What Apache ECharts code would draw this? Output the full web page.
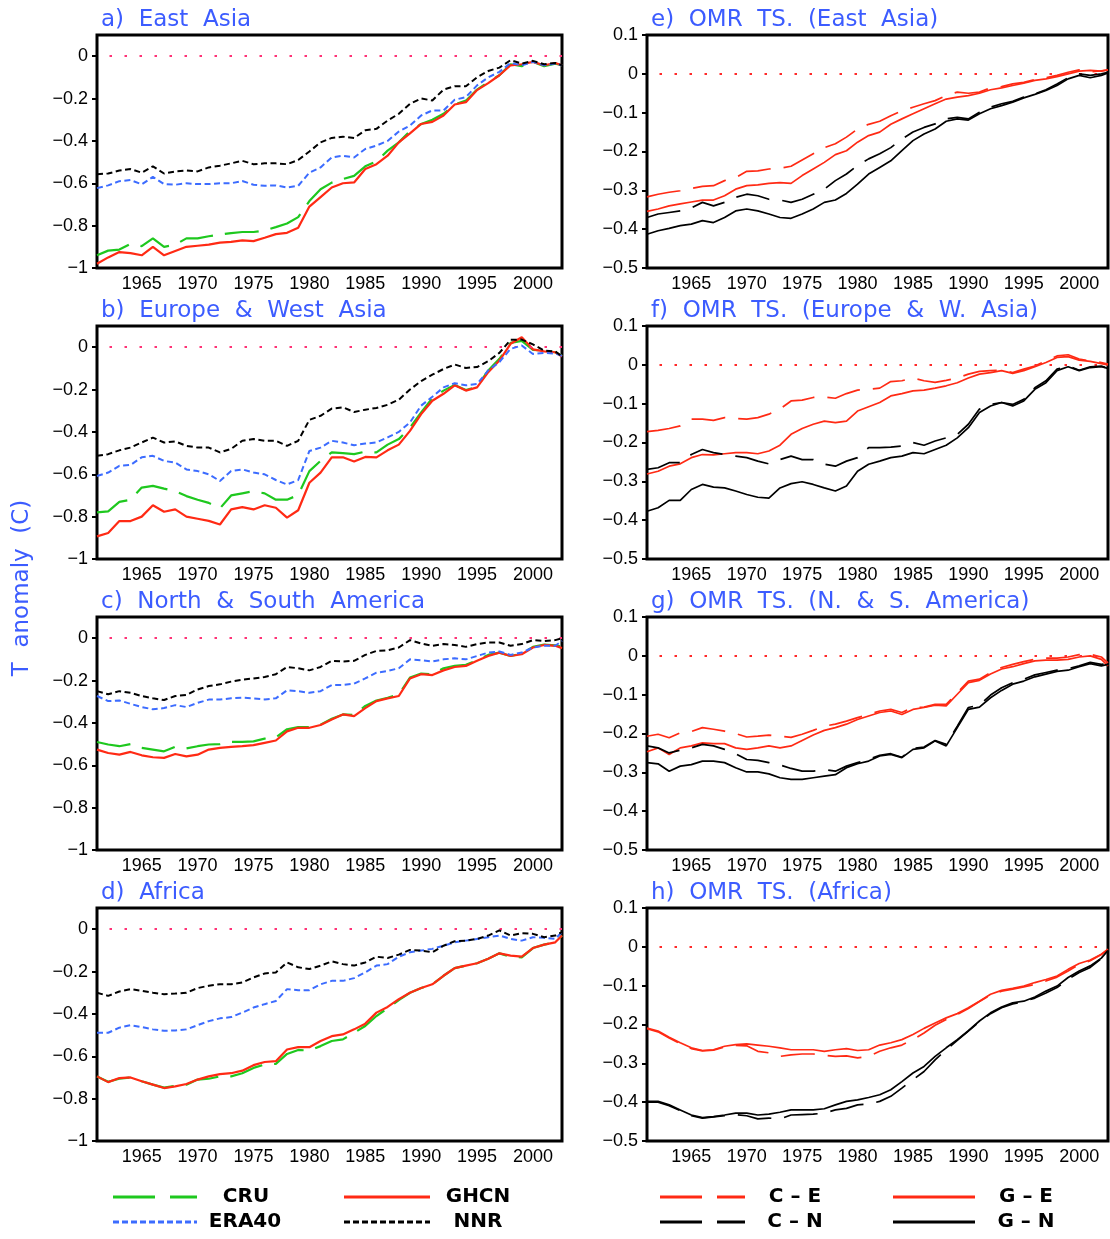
<!DOCTYPE html>
<html><head><meta charset="utf-8">
<script src="https://cdn.jsdelivr.net/npm/echarts@6/dist/echarts.min.js"></script>
<style>html,body{margin:0;padding:0;background:#fff}#c{width:1110px;height:1239px}</style>
</head><body><div id="c"></div><script>
// ---- x positions (years) ----
const years = [1961,1962,1963,1964,1965,1966,1967,1968,1969,1970,1971,1972,1973,1974,1975,1976,1977,1978,1979,1980,1981,1982,1983,1984,1985,1986,1987,1988,1989,1990,1991,1992,1993,1994,1995,1996,1997,1998,1999,2000,2001,2002,2002.6];
const xTickLabels = [1965,1970,1975,1980,1985,1990,1995,2000];
const yTicksT = [0,-0.2,-0.4,-0.6,-0.8,-1];
const yTicksOMR = [0.1,0,-0.1,-0.2,-0.3,-0.4,-0.5];

// ---- a) East Asia ----
const aCRU  = [-0.94,-0.918,-0.913,-0.886,-0.897,-0.86,-0.90,-0.89,-0.86,-0.86,-0.85,-0.842,-0.835,-0.83,-0.83,-0.823,-0.807,-0.79,-0.76,-0.684,-0.628,-0.597,-0.58,-0.565,-0.52,-0.497,-0.446,-0.407,-0.354,-0.32,-0.30,-0.272,-0.228,-0.21,-0.158,-0.122,-0.09,-0.038,-0.047,-0.027,-0.047,-0.035,-0.043];
const aGHCN = [-0.98,-0.95,-0.925,-0.93,-0.94,-0.90,-0.94,-0.92,-0.90,-0.895,-0.89,-0.88,-0.877,-0.87,-0.873,-0.857,-0.84,-0.834,-0.81,-0.71,-0.665,-0.62,-0.60,-0.596,-0.533,-0.51,-0.47,-0.407,-0.364,-0.32,-0.31,-0.28,-0.228,-0.217,-0.16,-0.127,-0.09,-0.043,-0.038,-0.027,-0.043,-0.032,-0.043];
const aERA40= [-0.623,-0.61,-0.59,-0.585,-0.605,-0.57,-0.604,-0.607,-0.60,-0.604,-0.604,-0.60,-0.60,-0.589,-0.607,-0.612,-0.61,-0.62,-0.612,-0.55,-0.525,-0.478,-0.47,-0.478,-0.438,-0.422,-0.40,-0.356,-0.327,-0.28,-0.256,-0.256,-0.206,-0.193,-0.138,-0.10,-0.074,-0.032,-0.043,-0.027,-0.043,-0.035,-0.043];
const aNNR  = [-0.557,-0.554,-0.54,-0.533,-0.55,-0.52,-0.554,-0.544,-0.54,-0.544,-0.525,-0.517,-0.506,-0.494,-0.51,-0.506,-0.506,-0.51,-0.49,-0.45,-0.407,-0.386,-0.38,-0.386,-0.35,-0.343,-0.304,-0.272,-0.225,-0.20,-0.209,-0.158,-0.142,-0.142,-0.10,-0.07,-0.054,-0.019,-0.035,-0.022,-0.038,-0.032,-0.043];
// ---- b) Europe & West Asia ----
const bCRU  = [-0.78,-0.775,-0.73,-0.72,-0.663,-0.655,-0.668,-0.68,-0.703,-0.72,-0.735,-0.761,-0.70,-0.69,-0.68,-0.69,-0.72,-0.72,-0.698,-0.585,-0.537,-0.497,-0.50,-0.505,-0.493,-0.497,-0.46,-0.434,-0.38,-0.308,-0.24,-0.205,-0.178,-0.202,-0.187,-0.11,-0.055,0.02,0.03,-0.013,-0.016,-0.024,-0.041];
const bGHCN = [-0.893,-0.877,-0.821,-0.821,-0.80,-0.746,-0.777,-0.766,-0.80,-0.81,-0.82,-0.837,-0.766,-0.755,-0.766,-0.746,-0.758,-0.805,-0.77,-0.64,-0.592,-0.52,-0.52,-0.54,-0.518,-0.52,-0.487,-0.46,-0.395,-0.316,-0.253,-0.22,-0.18,-0.205,-0.19,-0.118,-0.063,0.016,0.047,-0.01,-0.02,-0.024,-0.044];
const bERA40= [-0.608,-0.592,-0.56,-0.556,-0.52,-0.513,-0.537,-0.545,-0.577,-0.585,-0.60,-0.632,-0.585,-0.577,-0.592,-0.60,-0.627,-0.648,-0.627,-0.49,-0.474,-0.442,-0.45,-0.463,-0.455,-0.45,-0.426,-0.40,-0.355,-0.276,-0.234,-0.19,-0.17,-0.18,-0.174,-0.11,-0.07,-0.008,0.008,-0.032,-0.027,-0.03,-0.041];
const bNNR  = [-0.513,-0.505,-0.487,-0.474,-0.45,-0.427,-0.45,-0.445,-0.466,-0.474,-0.474,-0.497,-0.48,-0.442,-0.434,-0.442,-0.442,-0.466,-0.442,-0.343,-0.324,-0.29,-0.284,-0.306,-0.295,-0.287,-0.272,-0.248,-0.20,-0.16,-0.13,-0.103,-0.082,-0.098,-0.094,-0.066,-0.027,0.035,0.036,0.013,-0.016,-0.02,-0.044];
// ---- c) North & South America ----
const cCRU  = [-0.49,-0.502,-0.51,-0.50,-0.518,-0.526,-0.534,-0.513,-0.52,-0.51,-0.502,-0.50,-0.49,-0.49,-0.487,-0.474,-0.468,-0.43,-0.42,-0.42,-0.408,-0.38,-0.36,-0.363,-0.32,-0.294,-0.281,-0.265,-0.186,-0.167,-0.17,-0.142,-0.131,-0.126,-0.104,-0.079,-0.068,-0.084,-0.073,-0.041,-0.03,-0.034,-0.041];
const cGHCN = [-0.526,-0.542,-0.55,-0.537,-0.553,-0.562,-0.565,-0.547,-0.558,-0.55,-0.526,-0.518,-0.513,-0.51,-0.505,-0.494,-0.483,-0.44,-0.423,-0.423,-0.41,-0.384,-0.36,-0.368,-0.33,-0.297,-0.284,-0.273,-0.19,-0.17,-0.174,-0.152,-0.136,-0.131,-0.107,-0.084,-0.068,-0.084,-0.076,-0.044,-0.032,-0.036,-0.047];
const cERA40= [-0.273,-0.297,-0.294,-0.31,-0.325,-0.336,-0.33,-0.316,-0.325,-0.305,-0.29,-0.29,-0.284,-0.281,-0.284,-0.289,-0.284,-0.246,-0.25,-0.258,-0.25,-0.221,-0.221,-0.215,-0.19,-0.163,-0.155,-0.142,-0.10,-0.104,-0.11,-0.10,-0.095,-0.10,-0.084,-0.068,-0.063,-0.079,-0.068,-0.044,-0.036,-0.036,-0.013];
const cNNR  = [-0.25,-0.265,-0.25,-0.258,-0.273,-0.284,-0.292,-0.273,-0.268,-0.242,-0.226,-0.218,-0.205,-0.196,-0.19,-0.183,-0.17,-0.136,-0.142,-0.152,-0.136,-0.107,-0.11,-0.107,-0.079,-0.06,-0.057,-0.044,-0.009,-0.025,-0.036,-0.028,-0.032,-0.041,-0.028,-0.02,-0.02,-0.036,-0.028,-0.009,-0.013,-0.009,0.0];
// ---- d) Africa ----
const dCRU  = [-0.695,-0.72,-0.706,-0.70,-0.718,-0.734,-0.748,-0.74,-0.734,-0.71,-0.706,-0.695,-0.695,-0.68,-0.655,-0.639,-0.636,-0.589,-0.57,-0.573,-0.552,-0.528,-0.52,-0.489,-0.457,-0.41,-0.373,-0.335,-0.30,-0.278,-0.26,-0.22,-0.184,-0.172,-0.161,-0.14,-0.114,-0.13,-0.133,-0.089,-0.073,-0.062,-0.03];
const dGHCN = [-0.695,-0.722,-0.703,-0.70,-0.718,-0.734,-0.75,-0.742,-0.731,-0.71,-0.695,-0.684,-0.68,-0.668,-0.642,-0.627,-0.623,-0.568,-0.557,-0.557,-0.528,-0.505,-0.497,-0.473,-0.446,-0.394,-0.367,-0.33,-0.30,-0.278,-0.26,-0.22,-0.184,-0.172,-0.161,-0.14,-0.114,-0.125,-0.13,-0.089,-0.073,-0.062,-0.03];
const dERA40= [-0.489,-0.489,-0.465,-0.453,-0.462,-0.473,-0.48,-0.478,-0.473,-0.453,-0.434,-0.421,-0.415,-0.394,-0.37,-0.354,-0.339,-0.283,-0.288,-0.288,-0.26,-0.244,-0.244,-0.231,-0.204,-0.172,-0.165,-0.13,-0.109,-0.101,-0.093,-0.078,-0.062,-0.054,-0.046,-0.038,-0.03,-0.046,-0.054,-0.038,-0.041,-0.046,-0.014];
const dNNR  = [-0.30,-0.315,-0.294,-0.283,-0.291,-0.30,-0.307,-0.304,-0.30,-0.278,-0.267,-0.26,-0.26,-0.252,-0.228,-0.209,-0.204,-0.157,-0.18,-0.188,-0.172,-0.152,-0.165,-0.172,-0.157,-0.13,-0.136,-0.12,-0.098,-0.101,-0.109,-0.078,-0.057,-0.054,-0.046,-0.03,-0.006,-0.03,-0.019,-0.022,-0.038,-0.03,-0.014];
// ---- e) OMR East Asia ----
const eCE = [-0.317,-0.31,-0.305,-0.301,-0.295,-0.29,-0.288,-0.275,-0.267,-0.251,-0.25,-0.245,-0.243,-0.238,-0.222,-0.206,-0.19,-0.18,-0.163,-0.142,-0.13,-0.122,-0.108,-0.095,-0.086,-0.077,-0.069,-0.056,-0.047,-0.05,-0.047,-0.036,-0.033,-0.026,-0.022,-0.015,-0.01,-0.004,0.004,0.01,0.005,0.008,0.01];
const eGE = [-0.354,-0.348,-0.34,-0.335,-0.33,-0.325,-0.325,-0.314,-0.297,-0.288,-0.286,-0.282,-0.28,-0.282,-0.262,-0.245,-0.228,-0.208,-0.198,-0.176,-0.159,-0.15,-0.13,-0.116,-0.103,-0.09,-0.077,-0.065,-0.06,-0.056,-0.05,-0.041,-0.036,-0.03,-0.024,-0.017,-0.013,-0.007,0.0,0.007,0.009,0.007,0.01];
const eCN = [-0.37,-0.361,-0.357,-0.353,-0.345,-0.331,-0.34,-0.331,-0.318,-0.31,-0.314,-0.323,-0.325,-0.331,-0.323,-0.31,-0.297,-0.275,-0.258,-0.236,-0.219,-0.206,-0.19,-0.168,-0.15,-0.138,-0.129,-0.116,-0.112,-0.116,-0.099,-0.086,-0.077,-0.071,-0.06,-0.052,-0.041,-0.026,-0.01,0.0,-0.004,0.0,0.004];
const eGN = [-0.413,-0.404,-0.398,-0.391,-0.387,-0.378,-0.383,-0.37,-0.353,-0.348,-0.353,-0.361,-0.37,-0.372,-0.361,-0.348,-0.331,-0.325,-0.308,-0.284,-0.258,-0.241,-0.224,-0.198,-0.172,-0.155,-0.142,-0.122,-0.116,-0.119,-0.103,-0.09,-0.082,-0.073,-0.062,-0.053,-0.043,-0.03,-0.013,-0.004,-0.01,-0.004,0.002];
// ---- f) OMR Europe & W. Asia ----
const fCE = [-0.172,-0.169,-0.164,-0.157,-0.14,-0.14,-0.143,-0.136,-0.138,-0.14,-0.136,-0.127,-0.114,-0.093,-0.091,-0.084,-0.083,-0.086,-0.074,-0.065,-0.063,-0.06,-0.043,-0.041,-0.034,-0.041,-0.045,-0.04,-0.034,-0.024,-0.017,-0.015,-0.014,-0.02,-0.011,-0.003,0.01,0.023,0.026,0.015,0.01,0.006,0.002];
const fGE = [-0.281,-0.274,-0.261,-0.255,-0.239,-0.231,-0.232,-0.229,-0.226,-0.226,-0.229,-0.222,-0.207,-0.179,-0.164,-0.153,-0.145,-0.149,-0.145,-0.119,-0.108,-0.097,-0.08,-0.074,-0.067,-0.065,-0.06,-0.054,-0.046,-0.034,-0.024,-0.02,-0.015,-0.022,-0.015,-0.005,0.006,0.019,0.021,0.012,0.009,0.003,0.0];
const fCN = [-0.269,-0.265,-0.252,-0.252,-0.231,-0.218,-0.226,-0.231,-0.235,-0.239,-0.248,-0.255,-0.244,-0.235,-0.244,-0.244,-0.256,-0.261,-0.248,-0.239,-0.213,-0.213,-0.212,-0.209,-0.20,-0.207,-0.196,-0.188,-0.179,-0.153,-0.114,-0.102,-0.097,-0.102,-0.089,-0.059,-0.041,-0.011,-0.003,-0.014,-0.005,-0.003,-0.009];
const fGN = [-0.377,-0.368,-0.349,-0.349,-0.321,-0.308,-0.315,-0.317,-0.325,-0.334,-0.341,-0.343,-0.317,-0.306,-0.301,-0.308,-0.317,-0.325,-0.312,-0.274,-0.256,-0.248,-0.239,-0.235,-0.226,-0.229,-0.218,-0.207,-0.188,-0.162,-0.123,-0.106,-0.097,-0.106,-0.093,-0.063,-0.046,-0.015,-0.005,-0.015,-0.007,-0.005,-0.009];
// ---- g) OMR N. & S. America ----
const gCE = [-0.207,-0.202,-0.211,-0.198,-0.195,-0.185,-0.189,-0.194,-0.20,-0.209,-0.207,-0.204,-0.207,-0.21,-0.202,-0.192,-0.181,-0.176,-0.168,-0.159,-0.151,-0.142,-0.138,-0.146,-0.133,-0.132,-0.125,-0.125,-0.095,-0.065,-0.06,-0.043,-0.03,-0.022,-0.015,-0.009,-0.006,-0.006,-0.003,0.003,0.004,-0.003,-0.018];
const gGE = [-0.247,-0.237,-0.254,-0.237,-0.232,-0.224,-0.226,-0.226,-0.237,-0.241,-0.237,-0.232,-0.237,-0.232,-0.218,-0.204,-0.192,-0.185,-0.176,-0.164,-0.155,-0.146,-0.142,-0.151,-0.138,-0.133,-0.127,-0.129,-0.099,-0.069,-0.063,-0.047,-0.034,-0.028,-0.02,-0.013,-0.011,-0.011,-0.009,-0.003,0.0,-0.009,-0.026];
const gCN = [-0.232,-0.237,-0.25,-0.243,-0.237,-0.228,-0.232,-0.241,-0.252,-0.267,-0.269,-0.275,-0.281,-0.29,-0.297,-0.297,-0.293,-0.297,-0.284,-0.275,-0.267,-0.256,-0.252,-0.261,-0.238,-0.235,-0.218,-0.228,-0.181,-0.133,-0.127,-0.101,-0.082,-0.069,-0.06,-0.049,-0.043,-0.037,-0.033,-0.026,-0.017,-0.022,-0.02];
const gGN = [-0.275,-0.278,-0.297,-0.284,-0.28,-0.271,-0.271,-0.275,-0.288,-0.299,-0.299,-0.304,-0.314,-0.318,-0.318,-0.314,-0.31,-0.306,-0.288,-0.278,-0.271,-0.258,-0.254,-0.262,-0.241,-0.237,-0.219,-0.232,-0.185,-0.138,-0.132,-0.108,-0.089,-0.073,-0.065,-0.054,-0.047,-0.04,-0.037,-0.028,-0.02,-0.026,-0.022];
// ---- h) OMR Africa ----
const hCE = [-0.211,-0.219,-0.235,-0.249,-0.262,-0.268,-0.266,-0.258,-0.254,-0.255,-0.269,-0.273,-0.282,-0.278,-0.276,-0.276,-0.279,-0.282,-0.281,-0.286,-0.282,-0.269,-0.26,-0.253,-0.239,-0.222,-0.202,-0.187,-0.174,-0.159,-0.141,-0.124,-0.114,-0.109,-0.103,-0.097,-0.088,-0.078,-0.062,-0.045,-0.036,-0.02,-0.007];
const hGE = [-0.209,-0.217,-0.233,-0.247,-0.26,-0.267,-0.265,-0.256,-0.252,-0.25,-0.253,-0.256,-0.26,-0.265,-0.265,-0.265,-0.269,-0.265,-0.262,-0.267,-0.265,-0.253,-0.247,-0.239,-0.226,-0.21,-0.196,-0.183,-0.172,-0.157,-0.14,-0.122,-0.112,-0.107,-0.101,-0.092,-0.084,-0.075,-0.058,-0.043,-0.034,-0.019,-0.006];
const hCN = [-0.40,-0.40,-0.409,-0.422,-0.435,-0.441,-0.438,-0.435,-0.432,-0.435,-0.443,-0.441,-0.443,-0.433,-0.432,-0.431,-0.428,-0.42,-0.416,-0.407,-0.405,-0.398,-0.385,-0.364,-0.342,-0.321,-0.291,-0.265,-0.241,-0.217,-0.193,-0.172,-0.157,-0.147,-0.141,-0.132,-0.119,-0.105,-0.083,-0.066,-0.053,-0.03,-0.01];
const hGN = [-0.398,-0.398,-0.407,-0.42,-0.433,-0.44,-0.437,-0.433,-0.428,-0.428,-0.433,-0.431,-0.426,-0.42,-0.42,-0.42,-0.417,-0.407,-0.398,-0.394,-0.388,-0.381,-0.368,-0.347,-0.325,-0.308,-0.282,-0.26,-0.239,-0.216,-0.191,-0.17,-0.155,-0.144,-0.14,-0.129,-0.114,-0.101,-0.079,-0.062,-0.049,-0.029,-0.009];

const panelTitles = ['a)  East  Asia','b)  Europe  &  West  Asia','c)  North  &  South  America','d)  Africa',
  'e)  OMR  TS.  (East  Asia)','f)  OMR  TS.  (Europe  &  W.  Asia)','g)  OMR  TS.  (N.  &  S.  America)','h)  OMR  TS.  (Africa)'];
const panelData = [
  [aCRU,aGHCN,aERA40,aNNR],[bCRU,bGHCN,bERA40,bNNR],[cCRU,cGHCN,cERA40,cNNR],[dCRU,dGHCN,dERA40,dNNR],
  [eCE,eGE,eCN,eGN],[fCE,fGE,fCN,fGN],[gCE,gGE,gCN,gGN],[hCE,hGE,hCN,hGN]
];
const seriesNamesT = ['CRU','GHCN','ERA40','NNR'];
const seriesNamesO = ['C - E','G - E','C - N','G - N'];

const GREEN='#1ec81e', RED='#ff2a14', BLUE='#3c6cff', BLACK='#000000', TITLE='#3c5cff';
const stylesT = [
  {color:GREEN, width:2.2, type:[34,12]},
  {color:RED, width:2.2, type:'solid'},
  {color:BLUE, width:2, type:[6,3.5]},
  {color:BLACK, width:2, type:[6,3.5]}
];
const stylesO = [
  {color:RED, width:1.7, type:[34,13]},
  {color:RED, width:1.7, type:'solid'},
  {color:BLACK, width:1.7, type:[34,13]},
  {color:BLACK, width:1.7, type:'solid'}
];

const colLeft=[97,647], colWidth=[465,461], rowTop=[35,326,617,908], H=233;
const NUMFONT='Liberation Sans';

function fmt(v){
  if (Math.abs(v) < 1e-9) return '0';
  const a = Math.abs(v);
  const s = String(Math.round(a*100)/100);
  return (v<0?'\u2212':'') + s;
}

const grid=[], xAxis=[], yAxis=[], series=[], title=[];
panelData.forEach((arr, p) => {
  const col = p < 4 ? 0 : 1, row = p % 4;
  const isT = col === 0;
  grid.push({left:colLeft[col], top:rowTop[row], width:colWidth[col], height:H,
    show:true, borderColor:'#000', borderWidth:3, backgroundColor:'transparent', containLabel:false});
  xAxis.push({type:'value', gridIndex:p, min:1961, max:2002.6, interval:1,
    axisLine:{show:false}, axisTick:{show:false}, splitLine:{show:false},
    axisLabel:{show:true, customValues:xTickLabels, color:'#000', fontSize:18, fontFamily:NUMFONT, margin:7,
      formatter:(v)=> xTickLabels.indexOf(Math.round(v))>=0 && Math.abs(v-Math.round(v))<1e-6 ? String(Math.round(v)) : ''}});
  const yt = isT ? yTicksT : yTicksOMR;
  yAxis.push({type:'value', gridIndex:p, min: isT ? -1 : -0.5, max:0.1, interval:0.1,
    axisLine:{show:false}, splitLine:{show:false},
    axisTick:{show:true, inside:false, length:5, customValues:yt, lineStyle:{color:'#000', width:2}},
    axisLabel:{show:true, customValues:yt, color:'#000', fontSize:18, fontFamily:NUMFONT, margin:9,
      formatter:(v)=> yt.some(t=>Math.abs(t-v)<1e-6) ? fmt(v) : ''}});
  title.push({text:panelTitles[p], left:colLeft[col]-1, top:rowTop[row]-31,
    textStyle:{color:TITLE, fontSize:23, fontWeight:'normal', fontFamily:'DejaVu Sans'}});
  const styles = isT ? stylesT : stylesO;
  const names = isT ? seriesNamesT : seriesNamesO;
  arr.forEach((vals, k) => {
    const s = {type:'line', name:names[k], xAxisIndex:p, yAxisIndex:p,
      data: years.map((x,i)=>[x, vals[i]]), showSymbol:false, symbol:'none',
      lineStyle:{color:styles[k].color, width:styles[k].width, type:styles[k].type},
      itemStyle:{color:styles[k].color}, animation:false, silent:true, z: 3+k};
    if (k===0) {
      s.markLine = {silent:true, symbol:['none','none'], animation:false, label:{show:false},
        lineStyle:{color: isT ? '#ff3377' : '#ff2a2a', width:2, type:[2.5,12.5], dashOffset:2.5},
        data:[{yAxis:0}]};
    }
    series.push(s);
  });
});

// legend drawn as graphic (line samples + text)
const legendItems = [
  {x1:113,x2:197,y:1197,color:GREEN, dash:[42,15], text:'CRU', tx:246},
  {x1:344,x2:430,y:1197,color:RED, dash:null, text:'GHCN', tx:478},
  {x1:113,x2:197,y:1222,color:BLUE, dash:[6,3], text:'ERA40', tx:245},
  {x1:344,x2:430,y:1222,color:BLACK, dash:[6,3], text:'NNR', tx:478},
  {x1:660,x2:745,y:1197,color:RED, dash:[42,15], text:'C \u2013 E', tx:795},
  {x1:893,x2:975,y:1197,color:RED, dash:null, text:'G \u2013 E', tx:1026},
  {x1:660,x2:745,y:1222,color:BLACK, dash:[42,15], text:'C \u2013 N', tx:795},
  {x1:893,x2:975,y:1222,color:BLACK, dash:null, text:'G \u2013 N', tx:1026}
];
const graphic = [];
legendItems.forEach(it => {
  graphic.push({type:'line', shape:{x1:it.x1, y1:it.y, x2:it.x2, y2:it.y},
    style:{stroke:it.color, lineWidth:3, lineDash: it.dash || null}, silent:true});
  graphic.push({type:'text', x:it.tx, y:it.y, silent:true,
    style:{text:it.text, fill:'#000', font:'bold 20px "DejaVu Sans"', textAlign:'center', textVerticalAlign:'middle'}});
});
graphic.push({type:'text', x:22, y:588, rotation:Math.PI/2, silent:true,
  style:{text:'T  anomaly  (C)', fill:TITLE, font:'23px "DejaVu Sans"', textAlign:'center', textVerticalAlign:'middle'}});

const chart = echarts.init(document.getElementById('c'), null, {renderer:'canvas', width:1110, height:1239});
chart.setOption({backgroundColor:'#fff', animation:false, title, grid, xAxis, yAxis, series, graphic});
</script></body></html>
